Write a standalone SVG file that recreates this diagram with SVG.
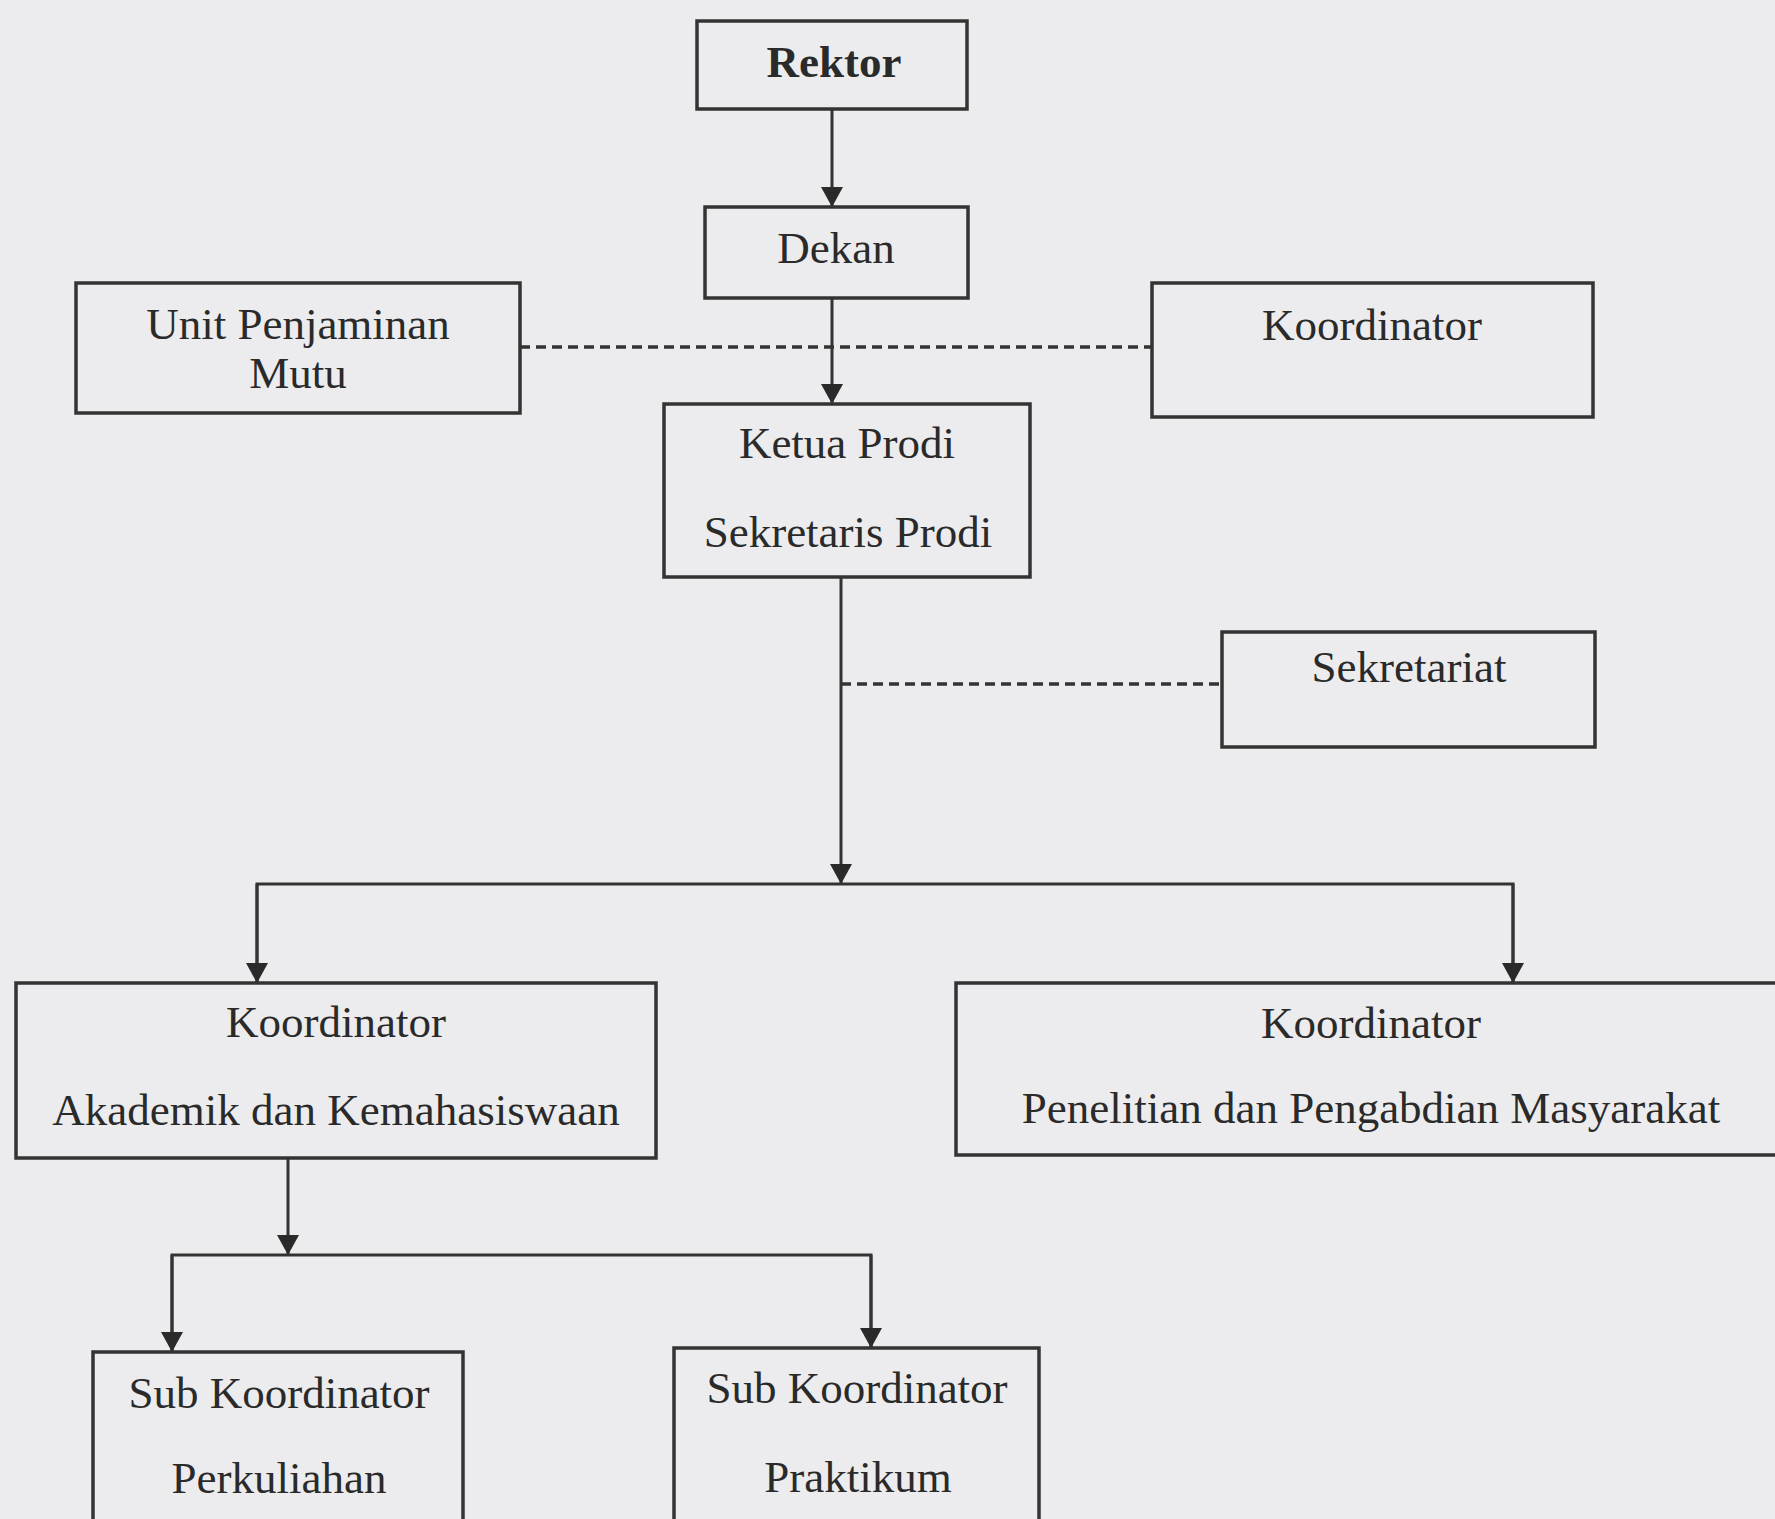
<svg xmlns="http://www.w3.org/2000/svg" width="1775" height="1519" viewBox="0 0 1775 1519">
<defs>
<style>
.box{fill:#ececee;stroke:#333;stroke-width:3.5}
.t{font-family:"Liberation Serif","Times New Roman",serif;font-size:45px;fill:#2a2a2a;text-anchor:middle}
.b{font-weight:bold}
.ln{stroke:#333;stroke-width:3;fill:none}
.dash{stroke:#333;stroke-width:3.5;fill:none;stroke-dasharray:10 6}
</style>
<marker id="arr" markerUnits="userSpaceOnUse" markerWidth="22" markerHeight="22" refX="20" refY="11" orient="auto">
<path d="M0,0 L20,11 L0,22 z" fill="#2a2a2a"/>
</marker>
</defs>
<rect width="1775" height="1519" fill="#ececee"/>
<g id="connectors">
<line class="ln" x1="832" y1="109" x2="832" y2="207" marker-end="url(#arr)"/>
<line class="ln" x1="832" y1="298" x2="832" y2="404" marker-end="url(#arr)"/>
<line class="dash" x1="520" y1="347" x2="1152" y2="347"/>
<line class="ln" x1="841" y1="577" x2="841" y2="884" marker-end="url(#arr)"/>
<line class="dash" x1="841" y1="684" x2="1222" y2="684"/>
<polyline class="ln" points="257,983 257,884 1513,884 1513,983"/>
<line class="ln" x1="257" y1="884" x2="257" y2="983" marker-end="url(#arr)"/>
<line class="ln" x1="1513" y1="884" x2="1513" y2="983" marker-end="url(#arr)"/>
<line class="ln" x1="288" y1="1158" x2="288" y2="1255" marker-end="url(#arr)"/>
<polyline class="ln" points="172,1352 172,1255 871,1255 871,1348"/>
<line class="ln" x1="172" y1="1255" x2="172" y2="1352" marker-end="url(#arr)"/>
<line class="ln" x1="871" y1="1255" x2="871" y2="1348" marker-end="url(#arr)"/>
</g>
<g id="rektor">
<rect class="box" x="697" y="21" width="270" height="88"/>
<text class="t b" x="834" y="77">Rektor</text>
</g>
<g id="dekan">
<rect class="box" x="705" y="207" width="263" height="91"/>
<text class="t" x="836" y="263">Dekan</text>
</g>
<g id="unit-penjaminan-mutu">
<rect class="box" x="76" y="283" width="444" height="130"/>
<text class="t" x="298" y="339">Unit Penjaminan</text>
<text class="t" x="298" y="388">Mutu</text>
</g>
<g id="koordinator-top">
<rect class="box" x="1152" y="283" width="441" height="134"/>
<text class="t" x="1372" y="340">Koordinator</text>
</g>
<g id="ketua-prodi">
<rect class="box" x="664" y="404" width="366" height="173"/>
<text class="t" x="847" y="458">Ketua Prodi</text>
<text class="t" x="848" y="547">Sekretaris Prodi</text>
</g>
<g id="sekretariat">
<rect class="box" x="1222" y="632" width="373" height="115"/>
<text class="t" x="1409" y="682">Sekretariat</text>
</g>
<g id="koordinator-akademik">
<rect class="box" x="16" y="983" width="640" height="175"/>
<text class="t" x="336" y="1037">Koordinator</text>
<text class="t" x="336" y="1125">Akademik dan Kemahasiswaan</text>
</g>
<g id="koordinator-penelitian">
<rect class="box" x="956" y="983" width="834" height="172"/>
<text class="t" x="1371" y="1038">Koordinator</text>
<text class="t" x="1371" y="1123">Penelitian dan Pengabdian Masyarakat</text>
</g>
<g id="sub-perkuliahan">
<rect class="box" x="93" y="1352" width="370" height="180"/>
<text class="t" x="279" y="1408">Sub Koordinator</text>
<text class="t" x="279" y="1493">Perkuliahan</text>
</g>
<g id="sub-praktikum">
<rect class="box" x="674" y="1348" width="365" height="184"/>
<text class="t" x="857" y="1403">Sub Koordinator</text>
<text class="t" x="858" y="1492">Praktikum</text>
</g>
</svg>
